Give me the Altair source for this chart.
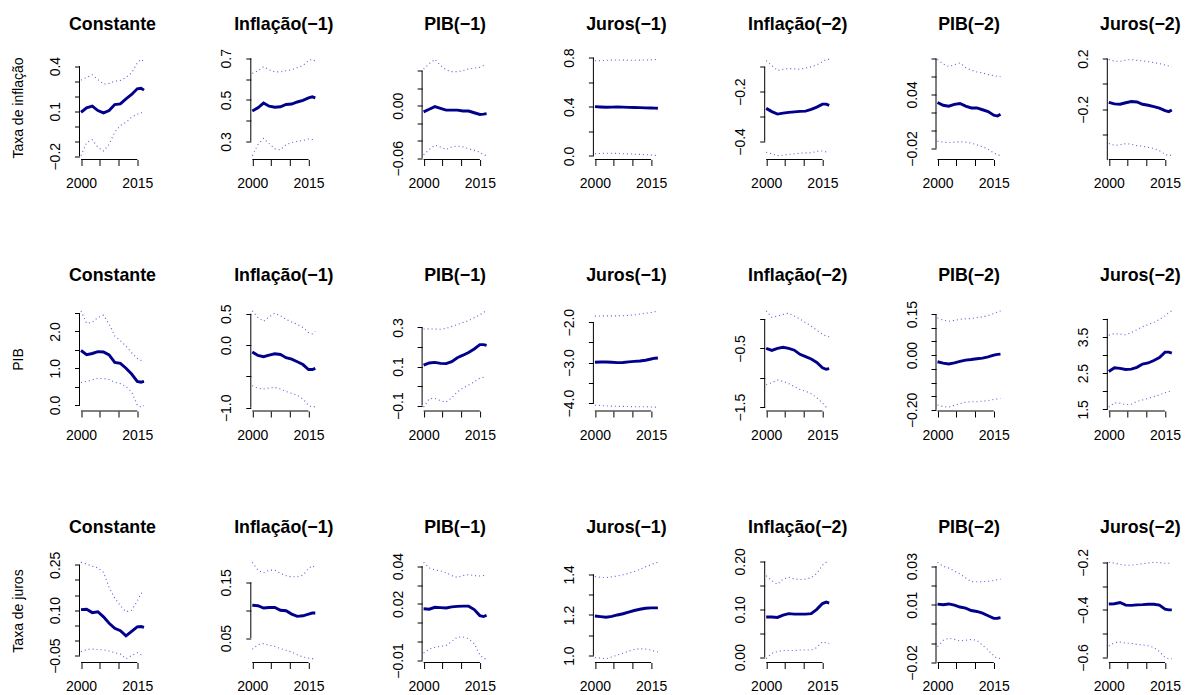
import altair as alt
import pandas as pd

# ---------------- data ----------------
years = [2000, 2001.5, 2003, 2004.5, 2006, 2007.5, 2009, 2010.5, 2012, 2013.5, 2015, 2016, 2016.8]
x_ticks = [2000, 2005, 2010, 2015]
x_labels = [2000, 2015]

coef_names = ["Constante", "Inflação(−1)", "PIB(−1)", "Juros(−1)", "Inflação(−2)", "PIB(−2)", "Juros(−2)"]
equations = ["Taxa de inflação", "PIB", "Taxa de juros"]

# Row 1: Taxa de inflação
inf_const_mid = [0.093, 0.122, 0.133, 0.104, 0.089, 0.104, 0.144, 0.149, 0.182, 0.211, 0.249, 0.253, 0.240]
inf_const_up = [0.307, 0.325, 0.342, 0.310, 0.280, 0.285, 0.300, 0.305, 0.325, 0.355, 0.420, 0.445, 0.430]
inf_const_lo = [-0.196, -0.110, -0.090, -0.140, -0.165, -0.120, -0.040, 0.005, 0.025, 0.060, 0.080, 0.090, 0.090]
inf_l1inf_mid = [0.447, 0.462, 0.485, 0.470, 0.465, 0.467, 0.478, 0.480, 0.490, 0.498, 0.510, 0.515, 0.510]
inf_l1inf_up = [0.628, 0.640, 0.660, 0.645, 0.635, 0.635, 0.640, 0.645, 0.655, 0.665, 0.690, 0.695, 0.687]
inf_l1inf_lo = [0.232, 0.285, 0.315, 0.290, 0.265, 0.260, 0.285, 0.295, 0.300, 0.305, 0.312, 0.310, 0.310]
inf_l1pib_mid = [-0.007, -0.004, -0.001, -0.003, -0.005, -0.005, -0.005, -0.006, -0.006, -0.008, -0.010, -0.0095, -0.009]
inf_l1pib_up = [0.042, 0.048, 0.053, 0.046, 0.041, 0.039, 0.039, 0.040, 0.042, 0.043, 0.044, 0.046, 0.047]
inf_l1pib_lo = [-0.056, -0.050, -0.045, -0.047, -0.050, -0.047, -0.046, -0.047, -0.049, -0.051, -0.053, -0.056, -0.057]
inf_l1jur_mid = [0.401, 0.398, 0.396, 0.397, 0.398, 0.397, 0.395, 0.394, 0.393, 0.391, 0.390, 0.389, 0.388]
inf_l1jur_up = [0.775, 0.776, 0.778, 0.780, 0.781, 0.780, 0.779, 0.779, 0.780, 0.781, 0.782, 0.784, 0.786]
inf_l1jur_lo = [0.018, 0.020, 0.022, 0.021, 0.020, 0.018, 0.016, 0.014, 0.012, 0.010, 0.007, 0.004, 0.002]
inf_l2inf_mid = [-0.267, -0.280, -0.290, -0.286, -0.283, -0.281, -0.279, -0.278, -0.271, -0.262, -0.250, -0.250, -0.255]
inf_l2inf_up = [-0.075, -0.095, -0.115, -0.110, -0.107, -0.108, -0.110, -0.105, -0.100, -0.092, -0.080, -0.070, -0.070]
inf_l2inf_lo = [-0.443, -0.450, -0.457, -0.455, -0.452, -0.450, -0.447, -0.446, -0.446, -0.440, -0.438, -0.442, -0.443]
inf_l2pib_mid = [0.031, 0.028, 0.027, 0.029, 0.030, 0.027, 0.025, 0.025, 0.023, 0.021, 0.017, 0.016, 0.018]
inf_l2pib_up = [0.079, 0.074, 0.071, 0.073, 0.075, 0.070, 0.067, 0.065, 0.064, 0.062, 0.061, 0.060, 0.060]
inf_l2pib_lo = [-0.012, -0.013, -0.0135, -0.013, -0.0125, -0.013, -0.014, -0.016, -0.018, -0.021, -0.025, -0.027, -0.028]
inf_l2jur_mid = [-0.145, -0.157, -0.160, -0.148, -0.138, -0.142, -0.160, -0.168, -0.178, -0.190, -0.210, -0.218, -0.205]
inf_l2jur_up = [0.194, 0.180, 0.178, 0.188, 0.193, 0.186, 0.182, 0.176, 0.168, 0.160, 0.150, 0.142, 0.136]
inf_l2jur_lo = [-0.470, -0.484, -0.480, -0.470, -0.475, -0.486, -0.490, -0.500, -0.508, -0.525, -0.555, -0.565, -0.560]

# Row 2: PIB
pib_const_mid = [1.48, 1.37, 1.40, 1.45, 1.44, 1.36, 1.16, 1.13, 1.00, 0.84, 0.64, 0.62, 0.64]
pib_const_up = [2.56, 2.22, 2.25, 2.38, 2.44, 2.20, 1.88, 1.75, 1.60, 1.42, 1.27, 1.21, 1.25]
pib_const_lo = [0.61, 0.64, 0.68, 0.72, 0.72, 0.69, 0.62, 0.58, 0.50, 0.35, 0.00, -0.06, -0.02]
pib_l1inf_mid = [-0.110, -0.165, -0.185, -0.160, -0.138, -0.150, -0.200, -0.225, -0.265, -0.310, -0.390, -0.390, -0.370]
pib_l1inf_up = [0.547, 0.440, 0.380, 0.450, 0.510, 0.470, 0.410, 0.370, 0.330, 0.280, 0.200, 0.180, 0.220]
pib_l1inf_lo = [-0.647, -0.690, -0.700, -0.685, -0.675, -0.700, -0.740, -0.770, -0.800, -0.860, -0.960, -0.990, -0.980]
pib_l1pib_mid = [0.107, 0.118, 0.121, 0.116, 0.115, 0.125, 0.145, 0.158, 0.172, 0.190, 0.212, 0.212, 0.208]
pib_l1pib_up = [0.292, 0.293, 0.292, 0.291, 0.295, 0.305, 0.315, 0.325, 0.335, 0.350, 0.365, 0.378, 0.385]
pib_l1pib_lo = [-0.108, -0.065, -0.063, -0.075, -0.082, -0.060, -0.030, -0.010, 0.005, 0.022, 0.040, 0.045, 0.045]
pib_l1jur_mid = [-2.99, -2.985, -2.985, -2.99, -3.00, -2.995, -2.98, -2.97, -2.96, -2.94, -2.91, -2.89, -2.885]
pib_l1jur_up = [-1.85, -1.845, -1.845, -1.845, -1.845, -1.84, -1.83, -1.82, -1.80, -1.78, -1.76, -1.74, -1.72]
pib_l1jur_lo = [-4.05, -4.06, -4.07, -4.075, -4.08, -4.08, -4.085, -4.09, -4.09, -4.09, -4.095, -4.10, -4.10]
pib_l2inf_mid = [-0.50, -0.535, -0.50, -0.48, -0.50, -0.53, -0.60, -0.64, -0.68, -0.74, -0.83, -0.855, -0.845]
pib_l2inf_up = [0.14, 0.03, 0.05, 0.08, 0.10, 0.05, 0.00, -0.06, -0.12, -0.19, -0.26, -0.29, -0.30]
pib_l2inf_lo = [-1.12, -1.08, -1.04, -1.06, -1.10, -1.15, -1.20, -1.23, -1.27, -1.34, -1.43, -1.50, -1.50]
pib_l2pib_mid = [-0.024, -0.029, -0.032, -0.028, -0.023, -0.018, -0.016, -0.013, -0.011, -0.006, 0.000, 0.003, 0.004]
pib_l2pib_up = [0.136, 0.128, 0.124, 0.127, 0.131, 0.133, 0.134, 0.137, 0.140, 0.145, 0.152, 0.158, 0.162]
pib_l2pib_lo = [-0.182, -0.188, -0.190, -0.183, -0.177, -0.172, -0.170, -0.170, -0.168, -0.166, -0.162, -0.160, -0.158]
pib_l2jur_mid = [2.545, 2.65, 2.63, 2.60, 2.61, 2.66, 2.75, 2.78, 2.85, 2.93, 3.08, 3.08, 3.05]
pib_l2jur_up = [3.55, 3.59, 3.58, 3.56, 3.62, 3.70, 3.78, 3.84, 3.90, 3.98, 4.08, 4.18, 4.22]
pib_l2jur_lo = [1.56, 1.68, 1.67, 1.63, 1.64, 1.72, 1.76, 1.80, 1.85, 1.90, 1.96, 2.00, 1.98]

# Row 3: Taxa de juros
jur_const_mid = [0.102, 0.103, 0.092, 0.095, 0.078, 0.057, 0.040, 0.032, 0.015, 0.030, 0.045, 0.046, 0.043]
jur_const_up = [0.258, 0.253, 0.245, 0.240, 0.225, 0.175, 0.140, 0.115, 0.095, 0.100, 0.130, 0.155, 0.160]
jur_const_lo = [-0.037, -0.030, -0.028, -0.030, -0.031, -0.035, -0.040, -0.045, -0.060, -0.050, -0.040, -0.047, -0.050]
jur_l1inf_mid = [0.109, 0.108, 0.104, 0.105, 0.105, 0.100, 0.099, 0.093, 0.089, 0.090, 0.093, 0.095, 0.095]
jur_l1inf_up = [0.186, 0.172, 0.167, 0.172, 0.172, 0.166, 0.162, 0.160, 0.160, 0.163, 0.175, 0.180, 0.177]
jur_l1inf_lo = [0.030, 0.038, 0.040, 0.037, 0.035, 0.031, 0.028, 0.025, 0.020, 0.016, 0.014, 0.013, 0.013]
jur_l1pib_mid = [0.0174, 0.0172, 0.0182, 0.0180, 0.0178, 0.0184, 0.0187, 0.0188, 0.0188, 0.0170, 0.0138, 0.0133, 0.0140]
jur_l1pib_up = [0.042, 0.039, 0.038, 0.0375, 0.0365, 0.035, 0.034, 0.035, 0.0355, 0.035, 0.0348, 0.035, 0.035]
jur_l1pib_lo = [-0.006, -0.004, -0.003, -0.0025, -0.002, 0.000, 0.0025, 0.0025, 0.0015, -0.001, -0.007, -0.009, -0.009]
jur_l1jur_mid = [1.195, 1.192, 1.189, 1.193, 1.200, 1.206, 1.214, 1.222, 1.228, 1.233, 1.235, 1.235, 1.235]
jur_l1jur_up = [1.389, 1.385, 1.384, 1.388, 1.392, 1.398, 1.405, 1.414, 1.425, 1.437, 1.448, 1.456, 1.459]
jur_l1jur_lo = [0.990, 0.987, 0.985, 0.993, 1.003, 1.012, 1.022, 1.030, 1.034, 1.032, 1.027, 1.020, 1.018]
jur_l2inf_mid = [0.084, 0.084, 0.083, 0.088, 0.091, 0.090, 0.090, 0.090, 0.091, 0.100, 0.112, 0.115, 0.113]
jur_l2inf_up = [0.170, 0.160, 0.152, 0.163, 0.167, 0.163, 0.162, 0.163, 0.166, 0.175, 0.192, 0.198, 0.198]
jur_l2inf_lo = [-0.003, 0.008, 0.012, 0.014, 0.014, 0.014, 0.015, 0.015, 0.015, 0.020, 0.032, 0.030, 0.028]
jur_l2pib_mid = [0.0103, 0.0100, 0.0104, 0.0098, 0.0088, 0.0082, 0.0070, 0.0065, 0.0056, 0.0043, 0.0029, 0.0030, 0.0033]
jur_l2pib_up = [0.032, 0.030, 0.029, 0.0275, 0.026, 0.024, 0.022, 0.0219, 0.022, 0.0222, 0.0225, 0.023, 0.0233]
jur_l2pib_lo = [-0.0117, -0.0085, -0.0074, -0.0080, -0.0088, -0.0085, -0.0080, -0.0085, -0.0110, -0.0135, -0.0165, -0.0180, -0.0178]
jur_l2jur_mid = [-0.375, -0.374, -0.369, -0.380, -0.381, -0.379, -0.378, -0.376, -0.376, -0.380, -0.397, -0.400, -0.400]
jur_l2jur_up = [-0.200, -0.203, -0.209, -0.212, -0.212, -0.209, -0.206, -0.203, -0.200, -0.201, -0.204, -0.204, -0.204]
jur_l2jur_lo = [-0.552, -0.538, -0.535, -0.540, -0.541, -0.545, -0.547, -0.551, -0.558, -0.575, -0.600, -0.605, -0.605]

# y-axis ticks, shown tick labels and label formats (row by row)
inf_ticks = [[-0.2, -0.1, 0, 0.1, 0.2, 0.3, 0.4], [0.3, 0.4, 0.5, 0.6, 0.7], [-0.06, -0.04, -0.02, 0, 0.02, 0.04],
             [0, 0.2, 0.4, 0.6, 0.8], [-0.4, -0.3, -0.2, -0.1], [-0.02, 0, 0.02, 0.04, 0.06, 0.08],
             [-0.6, -0.4, -0.2, 0, 0.2]]
inf_labels = [[-0.2, 0.1, 0.4], [0.3, 0.5, 0.7], [-0.06, 0], [0, 0.4, 0.8], [-0.4, -0.2], [-0.02, 0.04], [-0.6, -0.2, 0.2]]
inf_formats = [".1f", ".1f", ".2f", ".1f", ".1f", ".2f", ".1f"]

pib_ticks = [[0, 0.5, 1, 1.5, 2, 2.5], [-1, -0.5, 0, 0.5], [-0.1, 0, 0.1, 0.2, 0.3], [-4, -3.5, -3, -2.5, -2],
             [-1.5, -1, -0.5, 0], [-0.2, -0.15, -0.1, -0.05, 0, 0.05, 0.1, 0.15], [1.5, 2, 2.5, 3, 3.5, 4]]
pib_labels = [[0, 1, 2], [-1, 0, 0.5], [-0.1, 0.1, 0.3], [-4, -3, -2], [-1.5, -0.5], [-0.2, 0, 0.15], [1.5, 2.5, 3.5]]
pib_formats = [".1f", ".1f", ".1f", ".1f", ".1f", ".2f", ".1f"]

jur_ticks = [[-0.05, 0, 0.05, 0.1, 0.15, 0.2, 0.25], [0.05, 0.1, 0.15], [-0.01, 0, 0.01, 0.02, 0.03, 0.04],
             [1, 1.1, 1.2, 1.3, 1.4], [0, 0.05, 0.1, 0.15, 0.2], [-0.02, -0.01, 0, 0.01, 0.02, 0.03],
             [-0.6, -0.5, -0.4, -0.3, -0.2]]
jur_labels = [[-0.05, 0.1, 0.25], [0.05, 0.15], [-0.01, 0.02, 0.04], [1, 1.2, 1.4], [0, 0.1, 0.2], [-0.02, 0.01, 0.03],
              [-0.6, -0.4, -0.2]]
jur_formats = [".2f", ".2f", ".2f", ".1f", ".2f", ".2f", ".1f"]

rows = [
    ([(inf_const_mid, inf_const_up, inf_const_lo), (inf_l1inf_mid, inf_l1inf_up, inf_l1inf_lo),
      (inf_l1pib_mid, inf_l1pib_up, inf_l1pib_lo), (inf_l1jur_mid, inf_l1jur_up, inf_l1jur_lo),
      (inf_l2inf_mid, inf_l2inf_up, inf_l2inf_lo), (inf_l2pib_mid, inf_l2pib_up, inf_l2pib_lo),
      (inf_l2jur_mid, inf_l2jur_up, inf_l2jur_lo)], inf_ticks, inf_labels, inf_formats),
    ([(pib_const_mid, pib_const_up, pib_const_lo), (pib_l1inf_mid, pib_l1inf_up, pib_l1inf_lo),
      (pib_l1pib_mid, pib_l1pib_up, pib_l1pib_lo), (pib_l1jur_mid, pib_l1jur_up, pib_l1jur_lo),
      (pib_l2inf_mid, pib_l2inf_up, pib_l2inf_lo), (pib_l2pib_mid, pib_l2pib_up, pib_l2pib_lo),
      (pib_l2jur_mid, pib_l2jur_up, pib_l2jur_lo)], pib_ticks, pib_labels, pib_formats),
    ([(jur_const_mid, jur_const_up, jur_const_lo), (jur_l1inf_mid, jur_l1inf_up, jur_l1inf_lo),
      (jur_l1pib_mid, jur_l1pib_up, jur_l1pib_lo), (jur_l1jur_mid, jur_l1jur_up, jur_l1jur_lo),
      (jur_l2inf_mid, jur_l2inf_up, jur_l2inf_lo), (jur_l2pib_mid, jur_l2pib_up, jur_l2pib_lo),
      (jur_l2jur_mid, jur_l2jur_up, jur_l2jur_lo)], jur_ticks, jur_labels, jur_formats),
]

# ---------------- style ----------------
W, H = 66, 104
FONT = "Liberation Sans"
X_SCALE = alt.Scale(domain=[1999.6, 2017.2], nice=False, zero=False)


def in_list_expr(vals):
    return "indexof([" + ",".join(repr(v) for v in vals) + "], datum.value) >= 0 ? datum.label : ''"


def panel(eq_i, co_i, series, ticks, labels, fmt):
    mid, up, lo = series
    n = len(years)
    df = pd.DataFrame({
        "ano": years * 3,
        "valor": mid + up + lo,
        "serie": ["coef"] * n + ["sup"] * n + ["inf"] * n,
    })
    vals = mid + up + lo
    vmin, vmax = min(vals), max(vals)
    pad = 0.04 * (vmax - vmin)
    y_scale = alt.Scale(domain=[vmin - pad, vmax + pad], nice=False, zero=False)

    y_axis_kw = dict(values=ticks, format=fmt, labelExpr=in_list_expr(labels), labelAngle=270,
                     labelAlign="center", labelBaseline="bottom", domain=False, grid=False,
                     tickSize=5, labelPadding=12)
    if co_i == 0:
        y_axis = alt.Axis(title=equations[eq_i], titlePadding=23, **y_axis_kw)
    else:
        y_axis = alt.Axis(title=None, **y_axis_kw)
    x_axis = alt.Axis(values=x_ticks, format="d", labelExpr=in_list_expr(x_labels), labelFlush=False,
                      domain=False, grid=False, tickSize=6, labelPadding=11, title=None)

    base = alt.Chart(df).encode(
        x=alt.X("ano:Q", scale=X_SCALE, axis=x_axis),
        y=alt.Y("valor:Q", scale=y_scale, axis=y_axis),
    )
    dotted = base.transform_filter("datum.serie != 'coef'").mark_line(
        color="#3535d0", strokeWidth=1.1, strokeDash=[1, 3], opacity=0.8
    ).encode(detail="serie:N")
    solid = base.transform_filter("datum.serie == 'coef'").mark_line(color="#00008B", strokeWidth=2.9)

    yrule = alt.Chart(pd.DataFrame({"a": [min(ticks)], "b": [max(ticks)]})).mark_rule(
        color="black", strokeWidth=1).encode(
        x=alt.value(0), y=alt.Y("a:Q", scale=y_scale, axis=y_axis), y2="b:Q")
    xrule = alt.Chart(pd.DataFrame({"a": [min(x_ticks)], "b": [max(x_ticks)]})).mark_rule(
        color="black", strokeWidth=1).encode(
        y=alt.value(H), x=alt.X("a:Q", scale=X_SCALE, axis=x_axis), x2="b:Q")

    title = alt.Chart(pd.DataFrame({"nome": [coef_names[co_i]]})).mark_text(
        font=FONT, fontSize=17.8, fontWeight="bold", color="black", align="center", baseline="alphabetic"
    ).encode(x=alt.value(W / 2), y=alt.value(-26), text="nome:N")

    return alt.layer(dotted, solid, yrule, xrule, title).properties(width=W, height=H)


panels = []
for r, (series_list, ticks_list, labels_list, fmts) in enumerate(rows):
    for c in range(7):
        panels.append(panel(r, c, series_list[c], ticks_list[c], labels_list[c], fmts[c]))

chart = alt.concat(
    *panels, columns=7, bounds="flush", spacing={"row": 147.5, "column": 105.3}
).configure_view(stroke=None).configure_axis(
    labelFont=FONT, labelFontSize=14, labelColor="black", tickColor="black", tickWidth=1,
    titleFont=FONT, titleFontSize=14, titleFontWeight="normal", titleColor="black",
).properties(padding={"left": 3.5, "top": 7.5, "right": 0, "bottom": 0}, background="white")

chart.save("out.html", embed_options={"renderer": "svg", "actions": False})
